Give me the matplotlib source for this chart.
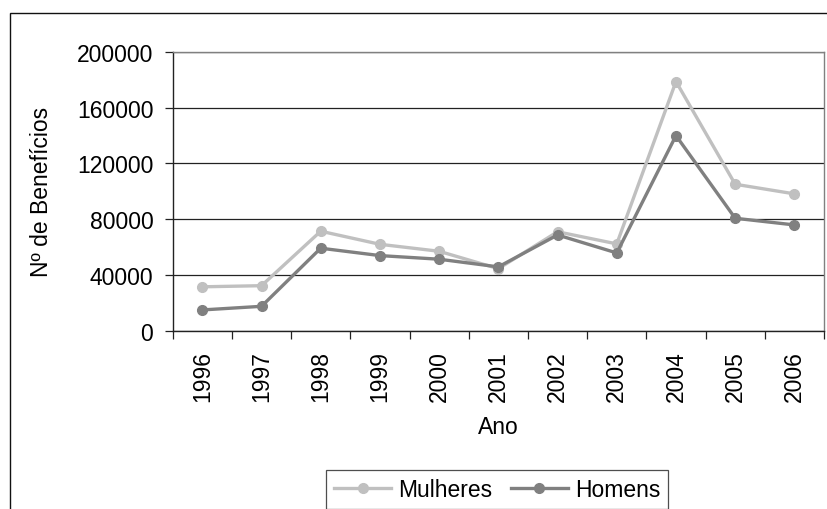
import numpy as np
import matplotlib.pyplot as plt
from matplotlib.patches import Rectangle

plt.rcParams['font.family'] = ['Liberation Sans', 'DejaVu Sans']

# dados
anos = ['1996', '1997', '1998', '1999', '2000', '2001', '2002', '2003', '2004', '2005', '2006']
mulheres = [31500, 32300, 71400, 62000, 57000, 44500, 71000, 62300, 178800, 105100, 98200]
homens = [14900, 17500, 59200, 53900, 51300, 45800, 68700, 55800, 140000, 80700, 75900]
y_ticks = [0, 40000, 80000, 120000, 160000, 200000]

FS = 16.5

fig = plt.figure(figsize=(8.28, 5.10), dpi=100)
ax = fig.add_axes([172.7 / 828, 1 - 331.7 / 510, (824 - 172.7) / 828, (331.7 - 53) / 510])

x = np.arange(len(anos))
ax.plot(x, mulheres, color='#c0c0c0', lw=2.4, marker='o', ms=7, label='Mulheres', zorder=3)
ax.plot(x, homens, color='#808080', lw=2.4, marker='o', ms=7, label='Homens', zorder=4)

ax.set_xlim(-0.5, len(anos) - 0.5)
ax.set_ylim(0, 200000)
ax.set_yticks(y_ticks)
ax.set_yticklabels([str(v) for v in y_ticks], fontsize=FS)
ax.yaxis.grid(True, color='#222222', lw=0.9)
ax.set_axisbelow(True)

ax.set_xticks(x)
ax.set_xticklabels(anos, rotation=90, fontsize=FS)
ax.tick_params(axis='x', which='major', length=0, pad=14)
ax.set_xticks(np.arange(-0.5, len(anos), 1), minor=True)
ax.tick_params(axis='x', which='minor', length=6, width=0.9, color='#222222')
ax.tick_params(axis='y', length=6, width=0.9, color='#222222', pad=8)

for s in ['top', 'right']:
    ax.spines[s].set_color('#808080')
    ax.spines[s].set_linewidth(1.0)
for s in ['left', 'bottom']:
    ax.spines[s].set_color('#222222')
    ax.spines[s].set_linewidth(1.0)

ax.set_ylabel('Nº de Benefícios', fontsize=FS)
ax.set_xlabel('Ano', fontsize=FS)
ax.yaxis.set_label_coords((53 - 172.7) / (824 - 172.7), 0.5)
ax.xaxis.set_label_coords(0.5, -(416 - 331.7) / (331.7 - 53))

leg = fig.legend(loc='upper center', bbox_to_anchor=(497 / 828, 1 - 471 / 510), ncol=2,
                 fontsize=FS, frameon=True, fancybox=False, edgecolor='#222222',
                 handlelength=2.5, columnspacing=0.8, handletextpad=0.3,
                 borderpad=0.35, borderaxespad=0)
leg.get_frame().set_linewidth(0.9)

# moldura externa do gráfico (cortada pela borda da imagem)
fig.patches.append(Rectangle((10 / 828, -0.1), 1.2, 1 - 14 / 510 + 0.1,
                             transform=fig.transFigure, fill=False,
                             edgecolor='#111111', lw=1.0))

fig.savefig('out.png', dpi=100)
